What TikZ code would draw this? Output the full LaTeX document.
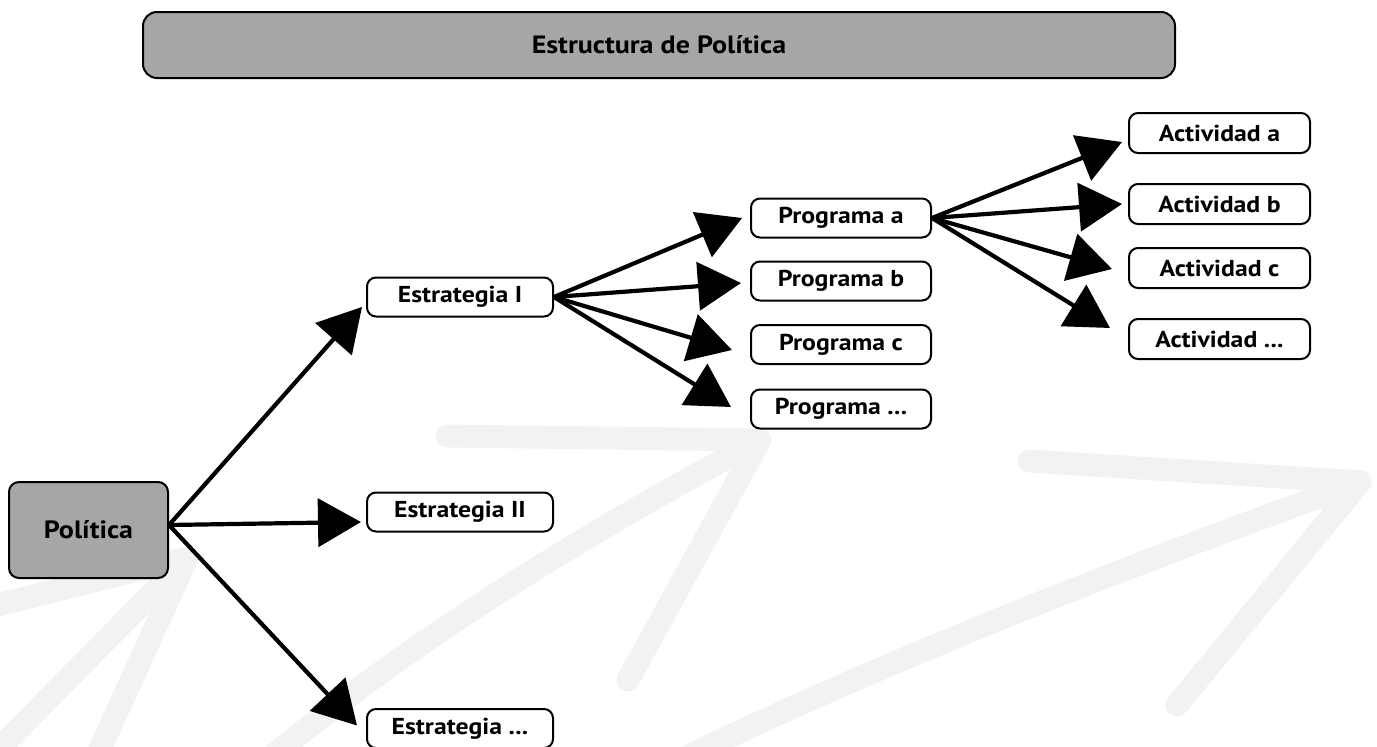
\documentclass[tikz,border=0pt]{standalone}
\usepackage{fontspec}
\setmainfont{PT Sans}[FakeStretch=1.12]
\usetikzlibrary{arrows.meta}
\definecolor{wm}{RGB}{242,242,242}
\definecolor{boxgray}{RGB}{166,166,166}
\begin{document}
\begin{tikzpicture}[x=1pt,y=-1pt,
  wmark/.style={draw=wm,line width=23pt,line cap=round,line join=round},
  conn/.style={line width=4.2pt,-{Triangle[length=43pt,width=48pt]}},
  txt/.style={font=\bfseries\fontsize{23}{27}\selectfont},
  gtxt/.style={font=\bfseries\fontsize{25}{29}\selectfont},
  wbox/.style={txt,draw,line width=2pt,fill=white,rounded corners=9pt,minimum width=#1,minimum height=39pt,inner sep=0pt},
  gbox/.style={gtxt,draw,line width=2pt,fill=boxgray,inner sep=0pt}
]
\useasboundingbox (0,0) rectangle (1377,747);
\clip (0,0) rectangle (1377,747);
% background watermark arrows
\draw[wmark] (-15,608) -- (187,558) -- (95,760);
\draw[wmark] (187,558) -- (-10,758);
\draw[wmark] (447,436) -- (760,440) -- (628,680);
\draw[wmark] (760,440) .. controls (620,515) and (420,630) .. (250,775);
\draw[wmark] (1029,461) -- (1360,482) -- (1177,705);
\draw[wmark] (1360,482) .. controls (1200,540) and (900,650) .. (650,775);
% nodes
\node[gbox,rounded corners=14pt,minimum width=1032pt,minimum height=66pt] (title) at (659,45) {Estructura de Política};
\node[gbox,rounded corners=10pt,minimum width=159pt,minimum height=96pt] (pol) at (88.5,530) {Política};
\node[wbox=186pt] (e1) at (460,297) {Estrategia I};
\node[wbox=186pt] (e2) at (460,512) {Estrategia II};
\node[wbox=186pt] (e3) at (460,728.5) {Estrategia ...};
\node[wbox=180pt] (pa) at (841,218) {Programa a};
\node[wbox=180pt] (pb) at (841,281) {Programa b};
\node[wbox=180pt] (pc) at (841,344.5) {Programa c};
\node[wbox=180pt] (pd) at (841,409) {Programa ...};
\node[wbox=181pt,minimum height=40pt] (aa) at (1219.5,133) {Actividad a};
\node[wbox=181pt,minimum height=40pt] (ab) at (1219.5,204) {Actividad b};
\node[wbox=181pt,minimum height=40pt] (ac) at (1219.5,268) {Actividad c};
\node[wbox=181pt,minimum height=40pt] (ad) at (1219.5,339) {Actividad ...};
% connectors
\draw[conn] ([yshift=5pt]pol.east) -- ([xshift=-4pt,yshift=-10pt]e1.west);
\draw[conn] ([yshift=5pt]pol.east) -- ([xshift=-5pt,yshift=-10pt]e2.west);
\draw[conn] ([yshift=5pt]pol.east) -- ([xshift=-9pt,yshift=3pt]e3.west);
\draw[conn] (e1.east) -- ([xshift=-8pt]pa.west);
\draw[conn] (e1.east) -- ([xshift=-9pt,yshift=-2pt]pb.west);
\draw[conn] (e1.east) -- ([xshift=-18pt,yshift=-5.5pt]pc.west);
\draw[conn] (e1.east) -- ([xshift=-19pt,yshift=2pt]pd.west);
\draw[conn] (pa.east) -- ([xshift=-6pt,yshift=-9pt]aa.west);
\draw[conn] (pa.east) -- ([xshift=-6pt]ab.west);
\draw[conn] (pa.east) -- ([xshift=-16pt,yshift=-1pt]ac.west);
\draw[conn] (pa.east) -- ([xshift=-18pt,yshift=11pt]ad.west);
\end{tikzpicture}
\end{document}
